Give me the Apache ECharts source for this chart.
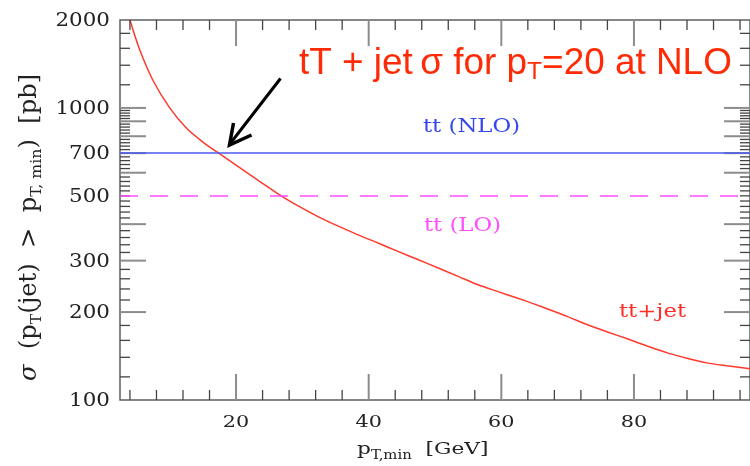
<!DOCTYPE html>
<html>
<head>
<meta charset="utf-8">
<script src="https://cdn.jsdelivr.net/npm/echarts@6/dist/echarts.min.js"></script>
<style>
  html, body { margin: 0; padding: 0; background: #fff; }
  #chart { width: 750px; height: 466px; }
</style>
</head>
<body>
<div id="chart"></div>
<script>
// Jet transverse-momentum threshold p_T,min [GeV]
const ptMin = [4, 5.5, 7.5, 10, 12.5, 15, 17.5, 20, 23.5, 26.5, 29.5, 32.5, 35.5, 38.5, 41.5, 44.5,
  47.5, 50.5, 53.5, 56.5, 59.5, 62.5, 65, 67, 70, 73, 76, 79, 82, 85, 88, 91, 94, 97.5];
// sigma(tt + jet) with p_T(jet) above the threshold [pb]
const sigmaTtJet = [2000, 1575, 1239, 1000, 853, 764, 697, 637, 562, 505, 460, 423, 393, 367, 344, 322,
  302, 283, 265, 248, 235, 223, 213, 205, 193, 181, 171, 162, 153, 145, 139, 134, 131, 128];
// Inclusive tt cross sections [pb]
const sigmaTtNLO = 700;
const sigmaTtLO = 500;

// Axis labels
const xTickLabels = [20, 40, 60, 80];
const yTickLabels = [100, 200, 300, 500, 700, 1000, 2000];

// Axis ranges
const X_MIN = 2.5, X_MAX = 97.5;
const Y_MIN = 100, Y_MAX = 2000;

// Tick positions (long and short), drawn on all four sides of the frame
const xMajorTicks = [20, 40, 60, 80];
const xMinorTicks = [];
for (let v = 4; v < X_MAX; v += 4) if (v % 20 !== 0) xMinorTicks.push(v);
const yMajorTicks = [200, 300, 400, 600, 700, 800, 900, 1000];
const yMinorTicks = [500, 1200, 1400, 1600, 1800];
for (let v = 120; v < 1000; v += 20) if (v % 100 !== 0) yMinorTicks.push(v);

const SERIF = '"DejaVu Serif", "Liberation Serif", serif';
const SANS = '"Liberation Sans", Arial, sans-serif';
const FRAME = '#5f5f5f';
const MAJOR_LEN = 26, MINOR_LEN = 10;

function renderFrameTicks(params, api) {
  const cs = params.coordSys;
  const left = cs.x, right = cs.x + cs.width, top = cs.y, bottom = cs.y + cs.height;
  const kids = [];
  const tick = (x1, y1, x2, y2, major) => kids.push({
    type: 'line',
    shape: { x1, y1, x2, y2 },
    style: { stroke: major ? '#8c8c8c' : '#444', lineWidth: major ? 2 : 1.3 }
  });
  const xTicks = (list, len, major) => list.forEach(v => {
    const px = api.coord([v, Y_MIN])[0];
    tick(px, bottom, px, bottom - len, major);
    tick(px, top, px, top + len, major);
  });
  const yTicks = (list, len, major) => list.forEach(v => {
    const py = api.coord([X_MIN, v])[1];
    tick(left, py, left + len, py, major);
    tick(right, py, right - len, py, major);
  });
  xTicks(xMinorTicks, MINOR_LEN, false);
  xTicks(xMajorTicks, MAJOR_LEN, true);
  yTicks(yMinorTicks, MINOR_LEN, false);
  yTicks(yMajorTicks, MAJOR_LEN, true);

  xTickLabels.forEach(v => {
    const px = api.coord([v, Y_MIN])[0];
    kids.push({
      type: 'text', x: px, y: bottom + 22.8, scaleX: 1.22,
      style: { text: String(v), fill: '#222', font: '17px ' + SERIF,
        align: 'center', verticalAlign: 'middle', textAlign: 'center', textVerticalAlign: 'middle' }
    });
  });
  yTickLabels.forEach(v => {
    const py = api.coord([X_MIN, v])[1];
    kids.push({
      type: 'text', x: left - 10, y: py + 1.6, scaleX: 1.19,
      style: { text: String(v), fill: '#222', font: '18px ' + SERIF,
        align: 'right', verticalAlign: 'middle', textAlign: 'right', textVerticalAlign: 'middle' }
    });
  });
  return { type: 'group', children: kids };
}

const chart = echarts.init(document.getElementById('chart'), null, { renderer: 'canvas' });

chart.setOption({
  animation: false,
  backgroundColor: '#fff',
  grid: {
    left: 120, top: 20, width: 632, height: 380,
    show: true, borderColor: FRAME, borderWidth: 1.5, backgroundColor: 'transparent'
  },
  xAxis: {
    type: 'value', min: X_MIN, max: X_MAX,
    axisLine: { show: false }, axisTick: { show: false },
    axisLabel: { show: false }, splitLine: { show: false }
  },
  yAxis: {
    type: 'log', logBase: 10, min: Y_MIN, max: Y_MAX,
    axisLine: { show: false }, axisTick: { show: false },
    axisLabel: { show: false }, splitLine: { show: false }
  },
  series: [
    {
      name: 'tt+jet',
      type: 'line',
      data: ptMin.map((x, i) => [x, sigmaTtJet[i]]),
      smooth: 0.3,
      showSymbol: false,
      clip: true,
      lineStyle: { color: '#ff3a2c', width: 1.5 },
      z: 3,
      markLine: {
        silent: true,
        symbol: 'none',
        label: { show: false },
        data: [
          { yAxis: sigmaTtNLO, lineStyle: { color: '#4a5af2', width: 1.6, type: 'solid' } },
          { yAxis: sigmaTtLO, lineStyle: { color: '#ff4dff', width: 1.5, type: [18, 12] } }
        ]
      }
    },
    {
      type: 'custom',
      silent: true,
      clip: false,
      z: 4,
      data: [0],
      renderItem: renderFrameTicks
    }
  ],
  graphic: [
    // curve labels
    { type: 'text', x: 471.5, y: 127.5, scaleX: 1.2, z: 10,
      style: { text: 'tt (NLO)', fill: '#3447ef', font: '19px ' + SERIF,
        align: 'center', verticalAlign: 'middle' } },
    { type: 'text', x: 462.5, y: 226, scaleX: 1.2, z: 10,
      style: { text: 'tt (LO)', fill: '#ff4dff', font: '19px ' + SERIF,
        align: 'center', verticalAlign: 'middle' } },
    { type: 'text', x: 652.5, y: 312, scaleX: 1.2, z: 10,
      style: { text: 'tt+jet', fill: '#ff2f25', font: '19px ' + SERIF,
        align: 'center', verticalAlign: 'middle' } },
    // axis titles
    { type: 'text', x: 357, y: 449, scaleX: 1.24, z: 10,
      style: {
        text: '{m|p}{s|T,min}{m|  [GeV]}',
        align: 'left', verticalAlign: 'middle', fill: '#222',
        rich: {
          m: { font: '17.5px ' + SERIF, lineHeight: 26, fill: '#222' },
          s: { font: '12px ' + SERIF, lineHeight: 7, verticalAlign: 'bottom', fill: '#222' }
        }
      } },
    { type: 'text', x: 29.5, y: 227.5, rotation: Math.PI / 2, scaleX: 1.21, scaleY: 1.2, z: 10,
      style: {
        text: '{g|σ}{m|  (p}{s|T}{m|(jet)  >  p}{s|T, min}{m|)  [pb]}',
        align: 'center', verticalAlign: 'middle', fill: '#222',
        rich: {
          g: { font: 'italic 20px ' + SERIF, lineHeight: 26, fill: '#222' },
          m: { font: '20px ' + SERIF, lineHeight: 26, fill: '#222' },
          s: { font: '13px ' + SERIF, lineHeight: 14, verticalAlign: 'bottom', fill: '#222' }
        }
      } },
    // annotation with arrow
    { type: 'text', x: 299, y: 64.2, scaleX: 1.025, z: 10,
      style: {
        text: '{m|tT + jet\u2009σ for p}{s|T}{m|=20 at NLO}',
        align: 'left', verticalAlign: 'middle', fill: '#ff2b06',
        rich: {
          m: { font: '36px ' + SANS, lineHeight: 40, fill: '#ff2b06' },
          s: { font: '24px ' + SANS, lineHeight: 15, verticalAlign: 'bottom', fill: '#ff2b06' }
        }
      } },
    { type: 'line', z: 10, shape: { x1: 280.5, y1: 78.5, x2: 231, y2: 142.5 },
      style: { stroke: '#000', lineWidth: 3 } },
    { type: 'polyline', z: 10, shape: { points: [[233.5, 123], [229.5, 145], [251.5, 135]] },
      style: { stroke: '#000', lineWidth: 3.5, fill: null, lineJoin: 'miter' } }
  ]
});
</script>
</body>
</html>
